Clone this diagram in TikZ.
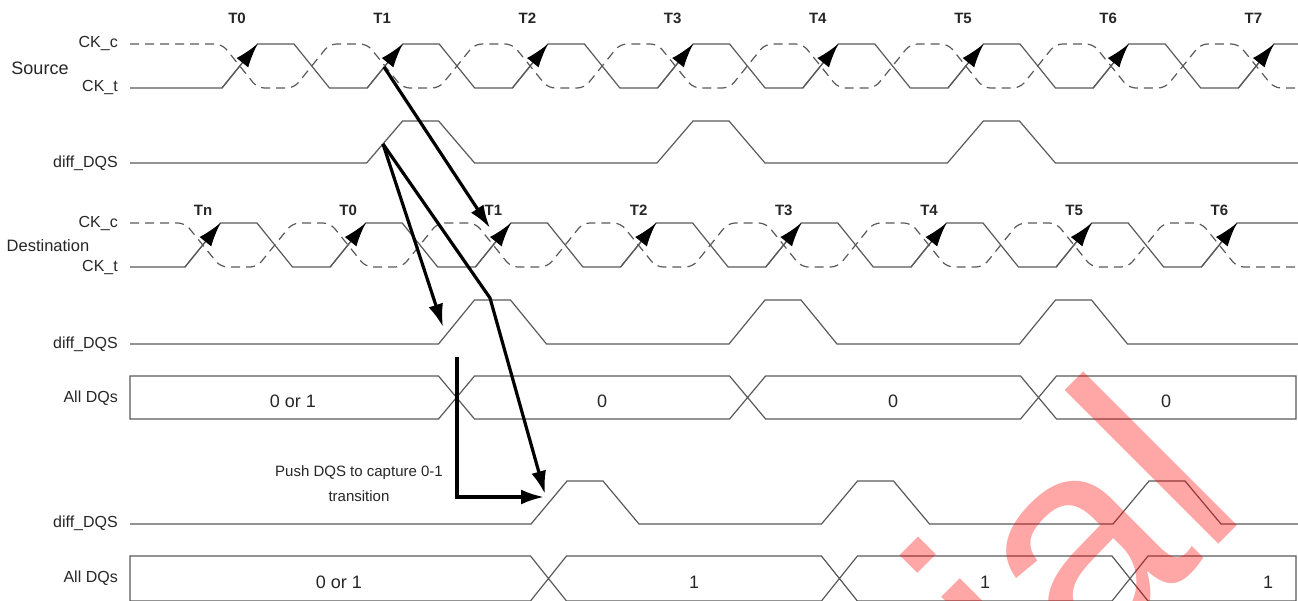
\documentclass[tikz,border=0pt]{standalone}
\usepackage{fontspec}
\setmainfont{Liberation Sans}
\usetikzlibrary{arrows.meta}

\begin{document}
\begin{tikzpicture}[x=1pt,y=-1pt,
    sig/.style={black!65, line width=1.2pt},
    cmp/.style={sig, dash pattern=on 9pt off 6pt, rounded corners=7pt},
    edg/.style={sig, -{Latex[length=24pt,width=15pt,color=black]}},
    push/.style={line width=3.2pt, -{Latex[length=23pt,width=15pt]}},
    lbl/.style={anchor=east, inner sep=2pt, text=black!85, font=\fontsize{16}{18}\selectfont},
    tck/.style={text=black!85, font=\bfseries\fontsize{15}{17}\selectfont},
    val/.style={text=black!85, font=\fontsize{18}{20}\selectfont}]
\def\prd{145.2}
\useasboundingbox (0,0) rectangle (1298,600);
\clip (0,0) rectangle (1298,600);

% signal names
\node[val] (src) at (40,68) {Source};
\node[lbl] (ckcs) at (120,44) {CK\_c};
\node[lbl] (ckts) at (120,88) {CK\_t};
\node[lbl] (dqss) at (120,163) {diff\_DQS};
\node[text=black!85, font=\fontsize{16.5}{18}\selectfont] (dst) at (48,246) {Destination};
\node[lbl] (ckcd) at (120,223) {CK\_c};
\node[lbl] (ckdt) at (120,267) {CK\_t};
\node[lbl] (dqsd) at (120,344) {diff\_DQS};
\node[lbl] (dqa) at (120,398) {All DQs};
\node[lbl] (dqsp) at (120,523) {diff\_DQS};
\node[lbl] (dqb) at (120,578) {All DQs};

% source clock
\draw[sig] (130,88) -- (222,88)
  \foreach \k in {0,...,6}{ -- ({222+\k*\prd},88) -- ({257.5+\k*\prd},44) -- ({294+\k*\prd},44) -- ({329.5+\k*\prd},88) }
  -- (1238.4,88) -- (1274,44) -- (1298,44);
\draw[cmp] (130,44)
  \foreach \k in {0,...,6}{ -- ({222+\k*\prd},44) -- ({257.5+\k*\prd},88) -- ({294+\k*\prd},88) -- ({329.5+\k*\prd},44) }
  -- (1238.4,44) -- (1274,88) -- (1298,88);
\foreach \k in {0,...,7}{
  \draw[edg] ({222+\k*\prd},88) -- ({257.5+\k*\prd},44);
  \node[tck] (s\k) at ({237+\k*\prd},18) {T\k};
}

% source strobe
\draw[sig] (130,163) \foreach \a in {366.6,657,947.4}{ -- (\a,163) -- ({\a+36},121) -- ({\a+72},121) -- ({\a+108},163) } -- (1298,163);

% destination clock
\draw[sig] (130,267) -- (185,267)
  \foreach \k in {0,...,6}{ -- ({185+\k*\prd},267) -- ({220.5+\k*\prd},223) -- ({257+\k*\prd},223) -- ({292.5+\k*\prd},267) }
  -- (1201.4,267) -- (1237,223) -- (1298,223);
\draw[cmp] (130,223)
  \foreach \k in {0,...,6}{ -- ({185+\k*\prd},223) -- ({220.5+\k*\prd},267) -- ({257+\k*\prd},267) -- ({292.5+\k*\prd},223) }
  -- (1201.4,223) -- (1237,267) -- (1298,267);
\foreach \k/\t in {0/Tn,1/T0,2/T1,3/T2,4/T3,5/T4,6/T5,7/T6}{
  \draw[edg] ({185+\k*\prd},267) -- ({220.5+\k*\prd},223);
  \node[tck] (d\k) at ({203+\k*\prd},210) {\t};
}

% destination strobe and data
\draw[sig] (130,344) \foreach \a in {438.5,729,1019.5}{ -- (\a,344) -- ({\a+36},300) -- ({\a+72},300) -- ({\a+108},344) } -- (1298,344);
\draw[sig] (130,376) -- (438.5,376) -- (474.5,419) -- (729.6,419) -- (765.6,376) -- (1020.5,376) -- (1056.5,419)
  -- (1296,419) -- (1296,376) -- (1056.5,376) -- (1020.5,419) -- (765.6,419) -- (729.6,376) -- (474.5,376)
  -- (438.5,419) -- (130,419) -- cycle;
\node[val] (va0) at (293,401) {0 or 1};
\node[val] (va1) at (602,401) {0};
\node[val] (va2) at (893,401) {0};
\node[val] (va3) at (1166,401) {0};

% pushed strobe and data
\draw[sig] (130,524) \foreach \a in {531,821.5,1113}{ -- (\a,524) -- ({\a+36},481) -- ({\a+72},481) -- ({\a+108},524) } -- (1298,524);
\draw[sig] (130,556) -- (530.5,556) -- (566.5,601) -- (821.4,601) -- (857.4,556) -- (1112,556) -- (1148,601)
  -- (1296,601) -- (1296,556) -- (1148,556) -- (1112,601) -- (857.4,601) -- (821.4,556) -- (566.5,556)
  -- (530.5,601) -- (130,601) -- cycle;
\node[val] (vb0) at (339,582) {0 or 1};
\node[val] (vb1) at (694,582) {1};
\node[val] (vb2) at (985,582) {1};
\node[val] (vb3) at (1268,582) {1};

\node[align=center, text=black!85, font=\fontsize{15}{25}\selectfont] (note) at (359,484) {Push DQS to capture 0-1\\transition};

% arrows
\coordinate (s1) at (384,67);
\coordinate (d1) at (490,228);
\coordinate (q1) at (383,144);
\coordinate (q2) at (443,327);
\coordinate (kn) at (490,298);
\coordinate (q3) at (545,494);
\coordinate (c0) at (457,357);
\coordinate (c1) at (457,497);
\coordinate (c2) at (544,497);
\draw[push] (s1) -- (d1);
\draw[push] (q1) -- (q2);
\draw[push] (q1) -- (kn) -- (q3);
\draw[push] (c0) -- (c1) -- (c2);

\node[rotate=45, anchor=base east, text=red, opacity=0.35, font=\fontsize{300}{300}\selectfont] (wm) at (1254,509) {Trial};
\end{tikzpicture}
\end{document}
